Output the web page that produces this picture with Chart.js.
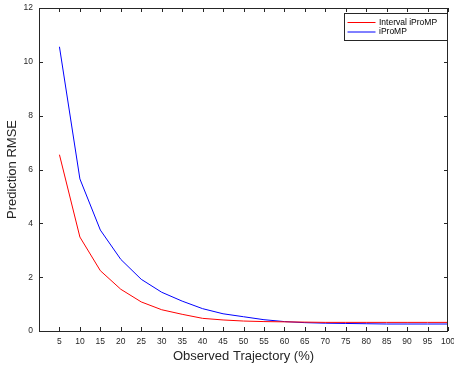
<!DOCTYPE html>
<html><head><meta charset="utf-8">
<script src="https://cdn.jsdelivr.net/npm/chart.js@4/dist/chart.umd.min.js"></script>
<style>html,body{margin:0;padding:0;background:#fff}#w{width:454px;height:369px}</style>
</head><body><div id="w"><canvas id="c" width="454" height="369"></canvas></div>
<script>
const xValues = [5,10,15,20,25,30,35,40,45,50,55,60,65,70,75,80,85,90,95,100];
const intervalProMP = [6.55,3.49,2.24,1.55,1.08,0.79,0.62,0.47,0.41,0.37,0.35,0.34,0.33,0.32,0.32,0.32,0.32,0.32,0.32,0.32];
const iProMP = [10.56,5.65,3.75,2.66,1.92,1.44,1.11,0.83,0.64,0.53,0.42,0.35,0.31,0.29,0.28,0.27,0.26,0.26,0.26,0.26];
const seriesLabels = ['Interval iProMP','iProMP'];
const seriesColors = ['#ff0000','#0000ff'];
const yTicks = [0,2,4,6,8,10,12];
const xTickStep = 5;
const axisColor = '#262626';
const fontFam = 'Liberation Sans, Arial, sans-serif';

const boxPlugin = {
  id:'boxTicks',
  afterDraw(chart){
    const ctx = chart.ctx, a = chart.chartArea;
    const xs = chart.scales.x, ys = chart.scales.y;
    ctx.save();
    ctx.strokeStyle = axisColor; ctx.lineWidth = 1;
    ctx.strokeRect(Math.round(a.left)+0.5, Math.round(a.top)+0.5, Math.round(a.right-a.left)-1, Math.round(a.bottom-a.top));
    ctx.beginPath();
    const tl = 4;
    xs.ticks.forEach((t,i)=>{
      if (t.value===0) return;
      const px = Math.round(xs.getPixelForValue(t.value))+0.5;
      ctx.moveTo(px,a.bottom); ctx.lineTo(px,a.bottom-tl);
      ctx.moveTo(px,a.top); ctx.lineTo(px,a.top+tl);
    });
    ys.ticks.forEach(t=>{
      const py = Math.round(ys.getPixelForValue(t.value))+0.5;
      ctx.moveTo(a.left,py); ctx.lineTo(a.left+tl,py);
      ctx.moveTo(a.right,py); ctx.lineTo(a.right-tl,py);
    });
    ctx.stroke();
    // legend
    const lx = 344.5, ly = 13.5, lw = 103, lh = 27;
    ctx.fillStyle = '#fff';
    ctx.fillRect(lx,ly,lw,lh);
    ctx.strokeStyle = axisColor;
    ctx.strokeRect(lx,ly,lw,lh);
    ctx.font = '8.5px '+fontFam;
    ctx.textBaseline = 'middle';
    chart.data.datasets.forEach((d,i)=>{
      const yy = ly + 9 + i*9.5;
      ctx.strokeStyle = d.borderColor; ctx.lineWidth = 1;
      ctx.beginPath(); ctx.moveTo(lx+3,yy); ctx.lineTo(lx+31,yy); ctx.stroke();
      ctx.fillStyle = '#000';
      ctx.fillText(d.label, lx+34.5, yy);
    });
    ctx.restore();
  }
};

new Chart(document.getElementById('c'), {
  type:'line',
  data:{
    labels:xValues,
    datasets:[
      {label:seriesLabels[0], data:xValues.map((x,i)=>({x, y:intervalProMP[i]})), borderColor:seriesColors[0], borderWidth:1, pointRadius:0, tension:0, fill:false},
      {label:seriesLabels[1], data:xValues.map((x,i)=>({x, y:iProMP[i]})), borderColor:seriesColors[1], borderWidth:1, pointRadius:0, tension:0, fill:false}
    ]
  },
  options:{
    responsive:false, animation:false,
    layout:{padding:{top:8,right:6,left:0,bottom:0}},
    plugins:{legend:{display:false}, tooltip:{enabled:false}},
    scales:{
      x:{type:'linear', min:0, max:100,
        afterFit(s){ s.height = 38; s.paddingRight = 0; s.paddingLeft = 0; },
        grid:{display:false, drawTicks:false},
        border:{display:false},
        ticks:{stepSize:xTickStep, autoSkip:false, maxRotation:0, padding:6, color:axisColor, font:{family:fontFam,size:8.5},
          callback:v=> v===0 ? '' : String(v)},
        title:{display:true, text:'Observed Trajectory (%)', color:axisColor, font:{family:fontFam,size:13}, padding:{top:5,bottom:5}}
      },
      y:{min:0, max:12,
        afterFit(s){ s.width = 39; s.paddingTop = 0; s.paddingBottom = 0; },
        afterBuildTicks(s){ s.ticks = yTicks.map(v=>({value:v})); },
        grid:{display:false, drawTicks:false},
        border:{display:false},
        ticks:{padding:6, color:axisColor, font:{family:fontFam,size:8.5}},
        title:{display:true, text:'Prediction RMSE', color:axisColor, font:{family:fontFam,size:13}, padding:{top:5,bottom:0}}
      }
    }
  },
  plugins:[boxPlugin]
});
</script></body></html>
